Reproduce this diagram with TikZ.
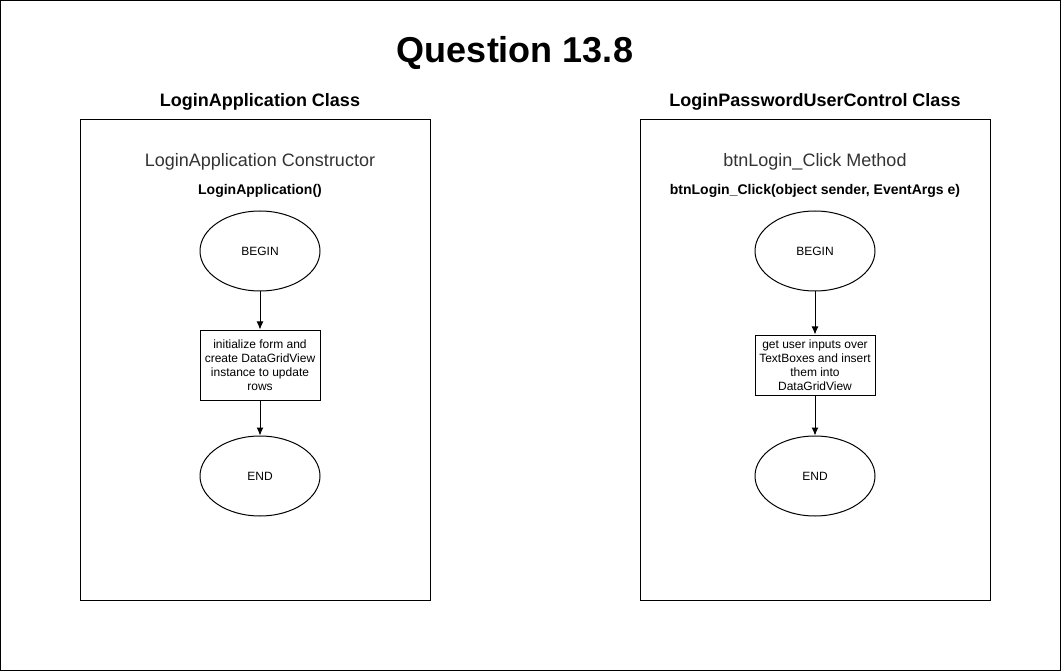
\documentclass[tikz,border=0pt]{standalone}
\usepackage{fontspec}
\setmainfont{Liberation Sans}
\usetikzlibrary{arrows.meta,positioning,shapes.geometric}
\definecolor{capgray}{RGB}{51,51,51}

\begin{document}
\begin{tikzpicture}[x=1pt,y=-1pt,line width=1pt]
  \tikzstyle{panel}=[draw,minimum width=350pt,minimum height=480pt,inner sep=0pt]
  \tikzstyle{term}=[draw,ellipse,minimum width=120pt,minimum height=80pt,inner sep=0pt,
    font=\fontsize{12}{14}\selectfont]
  \tikzstyle{proc}=[draw,minimum width=120pt,inner sep=1pt,align=center,
    font=\fontsize{12}{14}\selectfont]
  \tikzstyle{hd}=[font=\fontsize{18}{21}\selectfont\bfseries]
  \tikzstyle{subcap}=[text=capgray,font=\fontsize{18}{21}\selectfont]
  \tikzstyle{sig}=[font=\fontsize{14}{17}\selectfont\bfseries]
  \tikzstyle{f}=[-{Latex[length=8pt,width=7pt]}]

  \useasboundingbox (0,0) rectangle (1061,671);
  \draw (0.5,0.5) rectangle (1060.5,670.5);
  \node[font=\fontsize{36}{40}\selectfont\bfseries] (title) at (515,53) {Question 13.8};

  % -- Left panel: LoginApplication Class --
  \node[hd] (h1) at (260,102) {LoginApplication Class};
  \node[panel] (p1) at (255,360) {};
  \node[subcap] (k1) at (260,162) {LoginApplication Constructor};
  \node[sig] (s1) at (260,191) {LoginApplication()};
  \node[term] (b1) at (260,251) {BEGIN};
  \node[proc,minimum height=70pt] (r1) at (260,365)
    {initialize form and\\create DataGridView\\instance to update\\rows};
  \node[term] (e1) at (260,476) {END};
  \draw[f] (b1) -- (r1);
  \draw[f] (r1) -- (e1);

  % -- Right panel: LoginPasswordUserControl Class --
  \node[hd] (h2) at (815,102) {LoginPasswordUserControl Class};
  \node[panel] (p2) at (815,360) {};
  \node[subcap] (k2) at (815,162) {btnLogin\_Click Method};
  \node[sig] (s2) at (815,191) {btnLogin\_Click(object sender, EventArgs e)};
  \node[term] (b2) at (815,251) {BEGIN};
  \node[proc,minimum height=60pt] (r2) at (815,365)
    {get user inputs over\\TextBoxes and insert\\them into\\DataGridView};
  \node[term] (e2) at (815,476) {END};
  \draw[f] (b2) -- (r2);
  \draw[f] (r2) -- (e2);
\end{tikzpicture}
\end{document}
